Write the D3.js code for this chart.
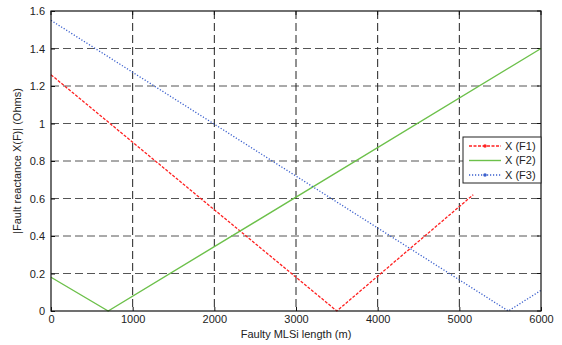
<!DOCTYPE html>
<html>
<head>
<meta charset="utf-8">
<script src="https://cdn.jsdelivr.net/npm/d3@7"></script>
<style>
  body { margin: 0; background: #fff; }
  svg { display: block; font-family: "Liberation Sans", Arial, sans-serif; }
</style>
</head>
<body>
<svg id="chart" width="562" height="345"></svg>
<script>
// series data: [length (m), |X(F)| (Ohms)]
const f1 = [[0, 1.26], [3500, 0], [5170, 0.62]];
const f2 = [[0, 0.18], [700, 0], [6000, 1.4]];
const f3 = [[0, 1.55], [5600, 0], [6000, 0.11]];
const seriesNames = ['X (F1)', 'X (F2)', 'X (F3)'];
const xTicks = [0, 1000, 2000, 3000, 4000, 5000, 6000];
const yTicks = [0, 0.2, 0.4, 0.6, 0.8, 1, 1.2, 1.4, 1.6];

const svg = d3.select('#chart');
const margin = { top: 11, right: 21, bottom: 34, left: 51 };
const width = 562 - margin.left - margin.right;
const height = 345 - margin.top - margin.bottom;

const chart = svg.append('g')
  .attr('transform', `translate(${margin.left}, ${margin.top})`);

const xScale = d3.scaleLinear().domain([0, 6000]).range([0, width]);
const yScale = d3.scaleLinear().domain([0, 1.6]).range([height, 0]);

// grid
chart.append('g')
  .selectAll('line')
  .data(yTicks.slice(1, -1))
  .enter()
  .append('line')
  .attr('x1', 0).attr('x2', width)
  .attr('y1', d => yScale(d)).attr('y2', d => yScale(d))
  .attr('stroke', '#555')
  .attr('stroke-dasharray', '8,4');

chart.append('g')
  .selectAll('line')
  .data(xTicks.slice(1, -1))
  .enter()
  .append('line')
  .attr('y1', 0).attr('y2', height)
  .attr('x1', d => xScale(d)).attr('x2', d => xScale(d))
  .attr('stroke', '#222')
  .attr('stroke-dasharray', '8,4');

// axes, ticks pointing inward
const xAxis = d3.axisBottom(xScale).tickValues(xTicks).tickSizeInner(-4).tickSizeOuter(0).tickPadding(4)
  .tickFormat(d3.format('d'));
const yAxis = d3.axisLeft(yScale).tickValues(yTicks).tickSizeInner(-4).tickSizeOuter(0).tickPadding(6)
  .tickFormat(d => d === 0 || d === 1 ? d3.format('d')(d) : d3.format('.1f')(d));

chart.append('g')
  .attr('class', 'axis axis-x')
  .attr('transform', `translate(0, ${height})`)
  .call(xAxis);

chart.append('g')
  .attr('class', 'axis axis-y')
  .call(yAxis);

chart.selectAll('.axis text')
  .attr('font-size', 11)
  .attr('fill', '#222')
  .attr('font-family', '"Liberation Sans", Arial, sans-serif');
chart.selectAll('.axis line').attr('stroke', '#111');
chart.selectAll('.axis path').remove();

// top/right ticks
chart.append('g').selectAll('line').data(xTicks).enter().append('line')
  .attr('x1', d => xScale(d)).attr('x2', d => xScale(d))
  .attr('y1', 0).attr('y2', 4).attr('stroke', '#111');
chart.append('g').selectAll('line').data(yTicks).enter().append('line')
  .attr('x1', width).attr('x2', width - 4)
  .attr('y1', d => yScale(d)).attr('y2', d => yScale(d)).attr('stroke', '#111');

// series
const line = d3.line()
  .x(d => xScale(d[0]))
  .y(d => yScale(d[1]));

const series = [
  { data: f1, color: '#ff2020', dash: '3,1.5', width: 1.3 },
  { data: f2, color: '#6cc04a', dash: null, width: 1.4 },
  { data: f3, color: '#3a5fcd', dash: '1.2,1.8', width: 1.3 }
];

chart.append('g')
  .selectAll('path')
  .data(series)
  .enter()
  .append('path')
  .attr('d', s => line(s.data))
  .attr('fill', 'none')
  .attr('stroke', s => s.color)
  .attr('stroke-width', s => s.width)
  .attr('stroke-dasharray', s => s.dash);

// frame
chart.append('rect')
  .attr('width', width).attr('height', height)
  .attr('fill', 'none').attr('stroke', '#111').attr('stroke-width', 1.2);

// legend
const legend = svg.append('g').attr('transform', 'translate(463, 137)');
legend.append('rect')
  .attr('width', 78).attr('height', 46)
  .attr('fill', '#fff').attr('stroke', '#222').attr('stroke-width', 1);

const rows = legend.selectAll('.row')
  .data(series)
  .enter()
  .append('g')
  .attr('transform', (s, i) => `translate(0, ${9 + i * 14.5})`);

rows.append('line')
  .attr('x1', 6).attr('x2', 38)
  .attr('stroke', s => s.color)
  .attr('stroke-width', s => s.width)
  .attr('stroke-dasharray', s => s.dash);

rows.filter((s, i) => i !== 1)
  .append('circle')
  .attr('cx', 22).attr('r', 1.8)
  .attr('fill', s => s.color);

rows.append('text')
  .attr('x', 42).attr('dy', '0.35em')
  .attr('font-size', 11)
  .attr('fill', '#222')
  .text((s, i) => seriesNames[i]);

// axis titles
svg.append('text')
  .attr('x', margin.left + width / 2).attr('y', 338)
  .attr('text-anchor', 'middle')
  .attr('font-size', 11)
  .attr('fill', '#222')
  .text('Faulty MLSi length (m)');

svg.append('text')
  .attr('transform', `translate(21, ${margin.top + height / 2}) rotate(-90)`)
  .attr('text-anchor', 'middle')
  .attr('font-size', 11)
  .attr('fill', '#222')
  .text('|Fault reactance X(F)| (Ohms)');
</script>
</body>
</html>
